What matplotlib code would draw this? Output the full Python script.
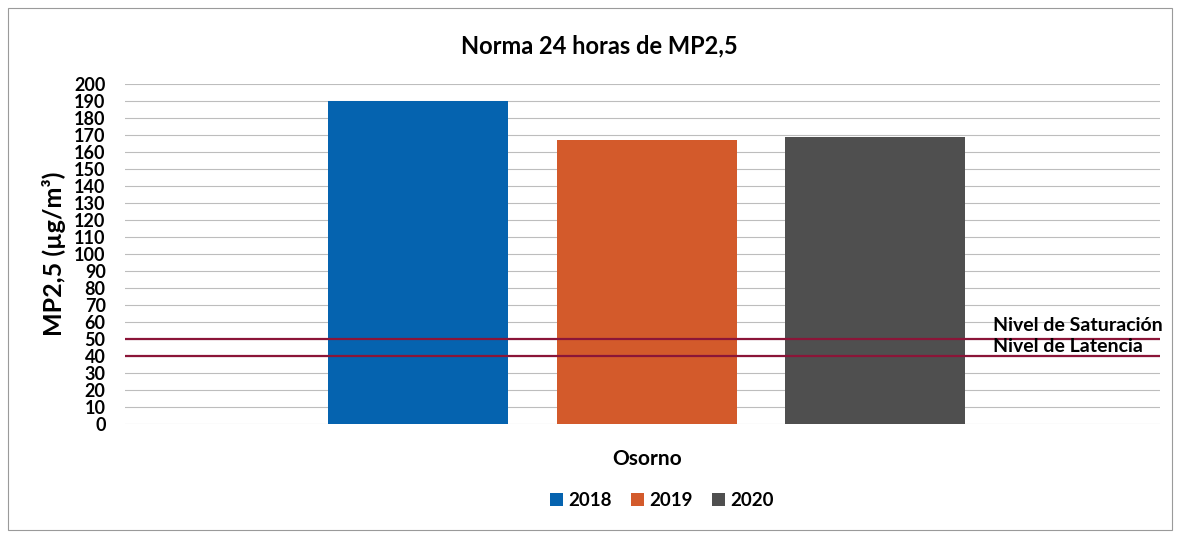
import matplotlib
matplotlib.use("Agg")
import matplotlib.pyplot as plt
from matplotlib.patches import Rectangle

categories = ["Osorno"]
years = ["2018", "2019", "2020"]
values = [190, 167, 169]
colors = ["#0563AF", "#D35A2B", "#4F4F4F"]
saturation = 50
latency = 40
yticks = list(range(0, 201, 10))

plt.rcParams['font.family'] = ['Lato', 'DejaVu Sans']

fig = plt.figure(figsize=(11.8, 5.38), dpi=100)
ax = fig.add_axes([0.106, 0.212, 0.877, 0.632])

width = 0.174
offsets = [-0.217, 0.004, 0.225]
for y, v, c, o in zip(years, values, colors, offsets):
    ax.bar(0 + o, v, width=width, color=c, label=y, zorder=3)

ax.set_xlim(-0.5, 0.5)
ax.set_ylim(0, 200)
ax.set_yticks(yticks)
ax.set_yticklabels([str(t) for t in yticks], fontsize=13, fontweight='bold')
ax.set_xticks([0.004])
ax.set_xticklabels(categories, fontsize=15, fontweight='bold')
ax.tick_params(axis='x', length=0, pad=18)
ax.tick_params(axis='y', length=0, pad=14)
ax.grid(axis='y', color='#BDBDBD', linewidth=0.8, zorder=0)
for s in ax.spines.values():
    s.set_visible(False)

ax.axhline(saturation, color='#8B1538', linewidth=1.6, zorder=4)
ax.axhline(latency, color='#8B1538', linewidth=1.6, zorder=4)
ax.text(0.339, saturation + 3, "Nivel de Saturación", fontsize=14, fontweight='bold', va='bottom', ha='left', zorder=5)
ax.text(0.339, latency + 0.5, "Nivel de Latencia", fontsize=14, fontweight='bold', va='bottom', ha='left', zorder=5)

ax.set_ylabel("MP2,5 (µg/m³)", fontsize=18, fontweight='bold', labelpad=6)

fig.text(0.508, 0.915, "Norma 24 horas de MP2,5", ha='center', va='center', fontsize=17, fontweight='bold')

leg = fig.legend(loc='center', bbox_to_anchor=(0.561, 0.07), ncol=3, frameon=False,
                 prop={'weight': 'bold', 'size': 13.5}, handlelength=0.7, handleheight=0.7,
                 handletextpad=0.3, columnspacing=1.0)

fig.patches.append(Rectangle((0.007, 0.015), 0.986, 0.97, transform=fig.transFigure,
                             fill=False, edgecolor='#9A9A9A', linewidth=0.8))

fig.savefig("out.png", dpi=100)
